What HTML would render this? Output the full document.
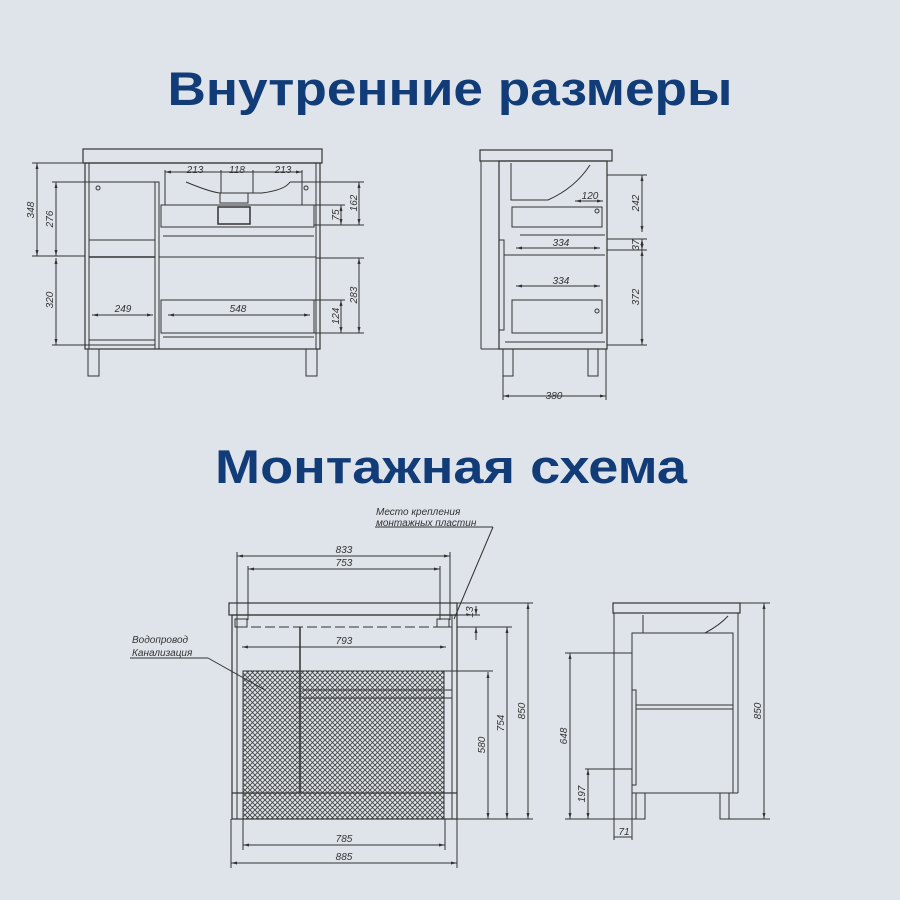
<!DOCTYPE html>
<html><head><meta charset="utf-8"><style>
html,body{margin:0;padding:0;background:#dfe4ea;}
svg{display:block}
.t{font-family:"Liberation Sans","DejaVu Sans",sans-serif;font-weight:bold;fill:#113c78;text-anchor:middle}
.d{font-family:"Liberation Sans",sans-serif;font-style:italic;font-size:10px;fill:#333;text-anchor:middle}
.l{font-family:"Liberation Sans",sans-serif;font-style:italic;font-size:10px;fill:#333}
</style></head><body>
<svg width="900" height="900" viewBox="0 0 900 900" xmlns="http://www.w3.org/2000/svg">
<defs>
<pattern id="h" width="5" height="5" patternUnits="userSpaceOnUse">
<path d="M0 0L5 5M5 0L0 5" stroke="#444" stroke-width="0.9"/>
</pattern>
<marker id="a" viewBox="0 0 6 6" refX="6" refY="3" markerWidth="6" markerHeight="6" orient="auto-start-reverse"><path d="M0 1.5L6 3L0 4.5z" fill="#333"/></marker>
</defs>
<rect width="900" height="900" fill="#dfe4ea"/>
<text class="t" x="450" y="105" font-size="47" textLength="565" lengthAdjust="spacingAndGlyphs">Внутренние размеры</text>
<text class="t" x="451" y="483" font-size="47" textLength="472" lengthAdjust="spacingAndGlyphs">Монтажная схема</text>

<g fill="none" stroke="#333" stroke-width="1">
<!-- Drawing 1 -->
<rect x="83" y="149" width="239" height="14" stroke-width="1.2"/>
<rect x="85" y="163" width="235" height="186" stroke-width="1.2"/>
<line x1="89" y1="163" x2="89" y2="349"/>
<line x1="316" y1="163" x2="316" y2="349"/>
<rect x="155" y="182" width="4" height="167"/>
<line x1="89" y1="240" x2="155" y2="240"/>
<line x1="89" y1="257" x2="155" y2="257" stroke-width="1.5"/>
<line x1="159" y1="257" x2="316" y2="257"/>
<path d="M186 182 Q210 192 220 193 L262 193 Q285 190 290 182"/>
<rect x="220" y="193" width="28" height="10"/>
<rect x="218" y="207" width="32" height="17" stroke-width="1.5"/>
<rect x="161" y="205" width="153" height="22"/>
<line x1="163" y1="236" x2="314" y2="236"/>
<rect x="161" y="300" width="153" height="33"/>
<line x1="163" y1="337" x2="314" y2="337"/>
<line x1="89" y1="340" x2="155" y2="340"/>
<rect x="88" y="349" width="11" height="27"/>
<rect x="306" y="349" width="11" height="27"/>
<circle cx="98" cy="188" r="2"/><circle cx="306" cy="188" r="2"/>
<line x1="37" y1="163" x2="37" y2="256" marker-start="url(#a)" marker-end="url(#a)"/>
<line x1="32" y1="163" x2="85" y2="163"/><line x1="32" y1="256" x2="85" y2="256"/>
<line x1="56" y1="182" x2="56" y2="256" marker-start="url(#a)" marker-end="url(#a)"/>
<line x1="52" y1="182" x2="155" y2="182"/>
<line x1="56" y1="258" x2="56" y2="345" marker-start="url(#a)" marker-end="url(#a)"/>
<line x1="52" y1="345" x2="155" y2="345"/>
<line x1="165" y1="172" x2="302" y2="172" marker-start="url(#a)" marker-end="url(#a)"/>
<line x1="165" y1="170" x2="165" y2="205"/><line x1="302" y1="170" x2="302" y2="205"/>
<line x1="221" y1="170" x2="221" y2="193"/><line x1="253" y1="170" x2="253" y2="193"/>
<line x1="359" y1="182" x2="359" y2="225" marker-start="url(#a)" marker-end="url(#a)"/>
<line x1="290" y1="182" x2="364" y2="182"/><line x1="314" y1="225" x2="364" y2="225"/>
<line x1="341" y1="205" x2="341" y2="225" marker-start="url(#a)" marker-end="url(#a)"/>
<line x1="314" y1="205" x2="345" y2="205"/>
<line x1="359" y1="258" x2="359" y2="333" marker-start="url(#a)" marker-end="url(#a)"/>
<line x1="316" y1="258" x2="364" y2="258"/><line x1="314" y1="333" x2="364" y2="333"/>
<line x1="341" y1="300" x2="341" y2="333" marker-start="url(#a)" marker-end="url(#a)"/>
<line x1="314" y1="300" x2="345" y2="300"/>
<line x1="92" y1="315" x2="153" y2="315" marker-start="url(#a)" marker-end="url(#a)"/>
<line x1="168" y1="315" x2="310" y2="315" marker-start="url(#a)" marker-end="url(#a)"/>

<!-- Drawing 2 -->
<rect x="480" y="150" width="132" height="11" stroke-width="1.2"/>
<rect x="499" y="161" width="108" height="188" stroke-width="1.2"/>
<line x1="481" y1="161" x2="481" y2="349"/>
<line x1="481" y1="349" x2="499" y2="349"/>
<path d="M511 163 L511 200 L548 200 Q575 188 590 165"/>
<rect x="512" y="207" width="90" height="20"/>
<line x1="520" y1="235" x2="605" y2="235"/>
<line x1="504" y1="255" x2="605" y2="255"/>
<rect x="499" y="240" width="5" height="90"/>
<rect x="512" y="300" width="90" height="33"/>
<line x1="505" y1="342" x2="605" y2="342"/>
<rect x="503" y="349" width="10" height="27"/>
<rect x="588" y="349" width="10" height="27"/>
<line x1="503" y1="376" x2="503" y2="400"/><line x1="606" y1="349" x2="606" y2="400"/>
<line x1="503" y1="396" x2="606" y2="396" marker-start="url(#a)" marker-end="url(#a)"/>
<line x1="642" y1="175" x2="642" y2="232" marker-start="url(#a)" marker-end="url(#a)"/>
<line x1="607" y1="175" x2="647" y2="175"/><line x1="607" y1="239" x2="647" y2="239"/>
<line x1="642" y1="239" x2="642" y2="250" marker-start="url(#a)" marker-end="url(#a)"/>
<line x1="607" y1="250" x2="647" y2="250"/>
<line x1="642" y1="250" x2="642" y2="345" marker-start="url(#a)" marker-end="url(#a)"/>
<line x1="607" y1="345" x2="647" y2="345"/>
<line x1="575" y1="201" x2="603" y2="201" marker-start="url(#a)" marker-end="url(#a)"/>
<line x1="516" y1="248" x2="600" y2="248" marker-start="url(#a)" marker-end="url(#a)"/>
<line x1="516" y1="286" x2="600" y2="286" marker-start="url(#a)" marker-end="url(#a)"/>
<circle cx="597" cy="211" r="2"/><circle cx="597" cy="311" r="2"/>

<!-- Drawing 3 -->
<rect x="229" y="603" width="228" height="12" stroke-width="1.2"/>
<rect x="232" y="615" width="225" height="204" stroke-width="1.2"/>
<line x1="237" y1="615" x2="237" y2="819"/><line x1="452" y1="615" x2="452" y2="819"/>
<rect x="243" y="671" width="201" height="148" fill="url(#h)"/>
<line x1="300" y1="627" x2="300" y2="793" stroke-width="1.5"/>
<line x1="302" y1="690" x2="452" y2="690"/><line x1="302" y1="698" x2="452" y2="698"/>
<line x1="232" y1="793" x2="457" y2="793" stroke-width="1.2"/>
<line x1="237" y1="627" x2="452" y2="627" stroke-dasharray="10 4"/>
<rect x="235" y="619" width="12" height="8"/><rect x="437" y="619" width="12" height="8"/>
<line x1="237" y1="556" x2="450" y2="556" marker-start="url(#a)" marker-end="url(#a)"/>
<line x1="237" y1="552" x2="237" y2="620"/><line x1="450" y1="552" x2="450" y2="620"/>
<line x1="248" y1="569" x2="440" y2="569" marker-start="url(#a)" marker-end="url(#a)"/>
<line x1="248" y1="566" x2="248" y2="620"/><line x1="440" y1="566" x2="440" y2="620"/>
<line x1="242" y1="647" x2="446" y2="647" marker-start="url(#a)" marker-end="url(#a)"/>
<line x1="243" y1="819" x2="243" y2="850"/><line x1="445" y1="819" x2="445" y2="850"/>
<line x1="243" y1="845" x2="445" y2="845" marker-start="url(#a)" marker-end="url(#a)"/>
<line x1="231" y1="819" x2="231" y2="868"/><line x1="457" y1="819" x2="457" y2="868"/>
<line x1="231" y1="863" x2="457" y2="863" marker-start="url(#a)" marker-end="url(#a)"/>
<line x1="457" y1="603" x2="533" y2="603"/><line x1="457" y1="819" x2="533" y2="819"/>
<line x1="528" y1="603" x2="528" y2="819" marker-start="url(#a)" marker-end="url(#a)"/>
<line x1="457" y1="627" x2="512" y2="627"/>
<line x1="507" y1="627" x2="507" y2="819" marker-start="url(#a)" marker-end="url(#a)"/>
<line x1="444" y1="671" x2="493" y2="671"/>
<line x1="488" y1="672" x2="488" y2="819" marker-start="url(#a)" marker-end="url(#a)"/>
<line x1="476" y1="606" x2="476" y2="615" marker-end="url(#a)"/>
<line x1="476" y1="640" x2="476" y2="627" marker-end="url(#a)"/>
<line x1="457" y1="615" x2="480" y2="615"/>
<line x1="375" y1="527" x2="493" y2="527"/>
<line x1="493" y1="527" x2="454" y2="619"/>
<line x1="130" y1="658" x2="208" y2="658"/>
<line x1="208" y1="658" x2="265" y2="690"/>

<!-- Drawing 4 -->
<rect x="613" y="603" width="127" height="10" stroke-width="1.2"/>
<line x1="614" y1="613" x2="614" y2="819"/>
<line x1="738" y1="613" x2="738" y2="793"/>
<rect x="632" y="633" width="101" height="160"/>
<line x1="636" y1="705" x2="733" y2="705"/><line x1="636" y1="709" x2="733" y2="709"/>
<path d="M643 615 L643 633 M705 633 Q720 625 728 616"/>
<rect x="632" y="690" width="4" height="95"/>
<line x1="632" y1="793" x2="738" y2="793"/>
<rect x="636" y="793" width="9" height="26"/><rect x="720" y="793" width="9" height="26"/>
<line x1="738" y1="603" x2="770" y2="603"/><line x1="729" y1="819" x2="770" y2="819"/>
<line x1="764" y1="603" x2="764" y2="819" marker-start="url(#a)" marker-end="url(#a)"/>
<line x1="565" y1="653" x2="632" y2="653"/>
<line x1="570" y1="653" x2="570" y2="819" marker-start="url(#a)" marker-end="url(#a)"/>
<line x1="565" y1="819" x2="636" y2="819"/>
<line x1="585" y1="769" x2="632" y2="769"/>
<line x1="588" y1="769" x2="588" y2="819" marker-start="url(#a)" marker-end="url(#a)"/>
<line x1="614" y1="819" x2="614" y2="840"/><line x1="632" y1="793" x2="632" y2="840"/>
<line x1="614" y1="837" x2="632" y2="837"/>
</g>

<!-- labels -->
<text class="d" x="195" y="173">213</text><text class="d" x="237" y="173">118</text><text class="d" x="283" y="173">213</text>
<text class="d" x="123" y="312">249</text><text class="d" x="238" y="312">548</text>
<text class="d" transform="translate(34 210) rotate(-90)">348</text>
<text class="d" transform="translate(53 219) rotate(-90)">276</text>
<text class="d" transform="translate(53 300) rotate(-90)">320</text>
<text class="d" transform="translate(357 203) rotate(-90)">162</text>
<text class="d" transform="translate(339 215) rotate(-90)">75</text>
<text class="d" transform="translate(357 295) rotate(-90)">283</text>
<text class="d" transform="translate(339 316) rotate(-90)">124</text>
<text class="d" x="590" y="199">120</text>
<text class="d" x="561" y="246">334</text><text class="d" x="561" y="284">334</text>
<text class="d" x="554" y="399">380</text>
<text class="d" transform="translate(639 203) rotate(-90)">242</text>
<text class="d" transform="translate(639 245) rotate(-90)">37</text>
<text class="d" transform="translate(639 297) rotate(-90)">372</text>
<text class="d" x="344" y="553">833</text><text class="d" x="344" y="566">753</text>
<text class="d" x="344" y="644">793</text><text class="d" x="344" y="842">785</text><text class="d" x="344" y="860">885</text>
<text class="d" transform="translate(525 711) rotate(-90)">850</text>
<text class="d" transform="translate(504 723) rotate(-90)">754</text>
<text class="d" transform="translate(485 745) rotate(-90)">580</text>
<text class="d" transform="translate(473 612) rotate(-90)">13</text>
<text class="d" transform="translate(761 711) rotate(-90)">850</text>
<text class="d" transform="translate(567 736) rotate(-90)">648</text>
<text class="d" transform="translate(585 794) rotate(-90)">197</text>
<text class="d" x="624" y="835">71</text>
<text class="l" x="376" y="515">Место крепления</text>
<text class="l" x="376" y="526">монтажных пластин</text>
<text class="l" x="132" y="643">Водопровод</text>
<text class="l" x="132" y="656">Канализация</text>
</svg>
</body></html>
